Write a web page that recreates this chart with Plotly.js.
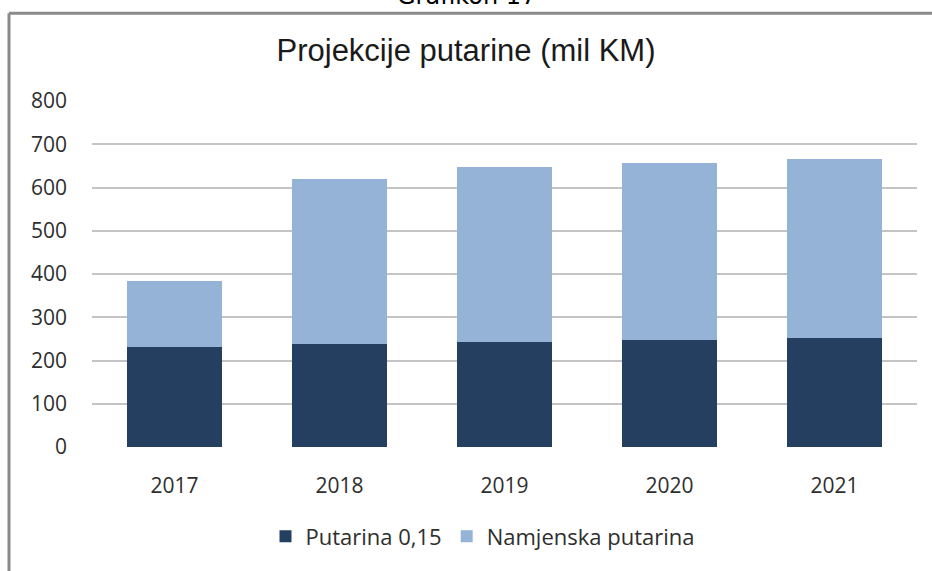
<!DOCTYPE html>
<html>
<head>
<meta charset="utf-8">
<script src="https://cdn.plot.ly/plotly-3.0.1.min.js"></script>
<style>html,body{margin:0;padding:0;background:#fff;}#chart{width:932px;height:571px;}</style>
</head>
<body>
<div id="chart"></div>
<script>
var years = ['2017', '2018', '2019', '2020', '2021'];
var putarina015 = [231, 238, 242, 248, 251];
var namjenska = [152, 382, 406, 409, 415];
var seriesNames = ['Putarina 0,15', 'Namjenska putarina'];
var yTicks = [0, 100, 200, 300, 400, 500, 600, 700, 800];

var plotL = 92, plotR = 917, plotT = 101, plotB = 447.5, W = 932, H = 571;
function px(x) { return (x - plotL) / (plotR - plotL); }
function py(y) { return (plotB - y) / (plotB - plotT); }

var traces = [
  {type: 'bar', name: seriesNames[0], x: years, y: putarina015,
   marker: {color: '#243F60'}, hoverinfo: 'skip'},
  {type: 'bar', name: seriesNames[1], x: years, y: namjenska,
   marker: {color: '#95B3D7'}, hoverinfo: 'skip'}
];

var layout = {
  width: W, height: H,
  margin: {l: plotL, r: W - plotR, t: plotT, b: H - plotB, pad: 0, autoexpand: false},
  paper_bgcolor: '#ffffff', plot_bgcolor: '#ffffff',
  barmode: 'stack', bargap: 0.43,
  showlegend: true,
  title: {text: 'Projekcije putarine (mil KM)', x: 0.5, xref: 'container', xanchor: 'center',
          y: 1 - 50 / H, yanchor: 'middle',
          font: {family: 'Liberation Sans, Arial, sans-serif', size: 31, color: '#1a1a1a'}},
  font: {family: 'Open Sans, sans-serif', color: '#2e2e2e'},
  xaxis: {type: 'category', showgrid: false, zeroline: false, showline: false,
          ticks: '', ticklabelstandoff: 24, tickangle: 0, automargin: false,
          tickfont: {family: 'Open Sans, sans-serif', size: 21, color: '#2e2e2e'}},
  yaxis: {range: [0, 800], tickvals: yTicks, ticktext: yTicks.map(String), automargin: false,
          showgrid: true, gridcolor: '#C4C4C4', gridwidth: 2, zeroline: false, showline: false,
          ticks: '', ticklabelstandoff: 24,
          tickfont: {family: 'Open Sans, sans-serif', size: 21, color: '#2e2e2e'}},
  legend: {orientation: 'h', x: px(483), xanchor: 'center', y: py(537), yanchor: 'middle',
           font: {family: 'Open Sans, sans-serif', size: 22, color: '#2e2e2e'},
           itemwidth: 30, traceorder: 'normal'},
  shapes: [
    {type: 'line', xref: 'paper', yref: 'paper', x0: px(9), x1: px(9), y0: py(H + 5), y1: py(13),
     line: {color: '#8a8a8a', width: 3}},
    {type: 'line', xref: 'paper', yref: 'paper', x0: px(9), x1: px(W + 5), y0: py(13), y1: py(13),
     line: {color: '#8a8a8a', width: 3}}
  ],
  annotations: [
    {text: 'Grafikon 17', xref: 'paper', yref: 'paper', x: px(466), y: py(12),
     xanchor: 'center', yanchor: 'bottom', showarrow: false,
     font: {family: 'DejaVu Sans, sans-serif', size: 24, color: '#000000'}}
  ]
};

Plotly.newPlot('chart', traces, layout, {displayModeBar: false, staticPlot: true});
</script>
</body>
</html>
